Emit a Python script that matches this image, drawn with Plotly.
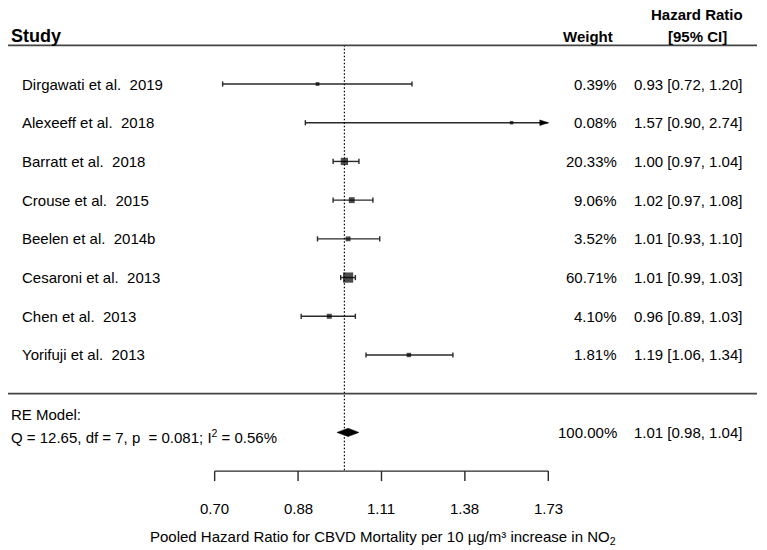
import numpy as np
import plotly.graph_objects as go

# ---------------- data ----------------
studies = ["Dirgawati et al.  2019", "Alexeeff et al.  2018", "Barratt et al.  2018",
           "Crouse et al.  2015", "Beelen et al.  2014b", "Cesaroni et al.  2013",
           "Chen et al.  2013", "Yorifuji et al.  2013"]
hr = [0.93, 1.57, 1.00, 1.02, 1.01, 1.01, 0.96, 1.19]
ci_lo = [0.72, 0.90, 0.97, 0.97, 0.93, 0.99, 0.89, 1.06]
ci_hi = [1.20, 2.74, 1.04, 1.08, 1.10, 1.03, 1.03, 1.34]
weights = [0.39, 0.08, 20.33, 9.06, 3.52, 60.71, 4.10, 1.81]

re_est, re_lo, re_hi = 1.01, 0.98, 1.04
re_weight = 100.00
re_stats = "Q = 12.65, df = 7, p  = 0.081; I<sup>2</sup> = 0.56%"

tick_vals = [0.7047, 0.8825, 1.1052, 1.3840, 1.7333]
tick_labels = ["0.70", "0.88", "1.11", "1.38", "1.73"]
x_title = "Pooled Hazard Ratio for CBVD Mortality per 10 µg/m³ increase in NO<sub>2</sub>"

# ---------------- geometry ----------------
W, H = 767, 550
px_per_ln = 370.7
px_null = 344.4
ln_left = (0 - px_null) / px_per_ln
ln_right = (W - px_null) / px_per_ln
px_per_row = 38.71
py_zero = 393.7
y_top = py_zero / px_per_row
y_bot = (py_zero - H) / px_per_row

k = len(studies)
rows = list(range(k, 0, -1))
alim_hi = tick_vals[-1]
alim_lo = tick_vals[0]

FONT = "Liberation Sans, Arial, sans-serif"
LC = "#2a2a2a"

fig = go.Figure()

# CI lines
xs, ys = [], []
for y, lo, hi in zip(rows, ci_lo, ci_hi):
    xs += [max(lo, alim_lo), min(hi, alim_hi), None]
    ys += [y, y, None]
fig.add_trace(go.Scatter(x=xs, y=ys, mode="lines", line=dict(color=LC, width=1.4),
                         hoverinfo="skip", showlegend=False))

# caps
cap = 2.6 / px_per_row
xs, ys = [], []
for y, lo, hi in zip(rows, ci_lo, ci_hi):
    for v in (lo, hi):
        if alim_lo <= v <= alim_hi:
            xs += [v, v, None]
            ys += [y - cap, y + cap, None]
fig.add_trace(go.Scatter(x=xs, y=ys, mode="lines", line=dict(color=LC, width=1.4),
                         hoverinfo="skip", showlegend=False))

# arrows where CI exceeds axis limit
ah_len = 8.5 / px_per_ln
ah_half = 2.8 / px_per_row
for y, hi in zip(rows, ci_hi):
    if hi > alim_hi:
        base = float(np.exp(np.log(alim_hi) - ah_len))
        fig.add_trace(go.Scatter(x=[base, alim_hi, base, base], y=[y + ah_half, y, y - ah_half, y + ah_half],
                                 mode="lines", fill="toself", fillcolor="black",
                                 line=dict(color="black", width=0.5), hoverinfo="skip", showlegend=False))

# point estimates
sizes = [3.2 + 0.9 * np.sqrt(w) for w in weights]
fig.add_trace(go.Scatter(x=hr, y=rows, mode="markers",
                         marker=dict(symbol="square", size=sizes, color="black", line=dict(width=0)),
                         hoverinfo="skip", showlegend=False))

# summary diamond
dh = 4.2 / px_per_row
fig.add_trace(go.Scatter(x=[re_lo, re_est, re_hi, re_est, re_lo], y=[-1, -1 + dh, -1, -1 - dh, -1],
                         mode="lines", fill="toself", fillcolor="black",
                         line=dict(color="black", width=0.5), hoverinfo="skip", showlegend=False))

# null line (dotted)
fig.add_trace(go.Scatter(x=[1, 1], y=[k + 1, (py_zero - 471) / px_per_row], mode="lines",
                         line=dict(color="black", width=1.2, dash="1.5px,2px"), hoverinfo="skip", showlegend=False))

# custom x axis
y_ax = -2.0
tick_len = 10 / px_per_row
fig.add_trace(go.Scatter(x=[tick_vals[0], tick_vals[-1]], y=[y_ax, y_ax], mode="lines",
                         line=dict(color=LC, width=1.4), hoverinfo="skip", showlegend=False))
xs, ys = [], []
for t in tick_vals:
    xs += [t, t, None]
    ys += [y_ax, y_ax - tick_len, None]
fig.add_trace(go.Scatter(x=xs, y=ys, mode="lines", line=dict(color=LC, width=1.4),
                         hoverinfo="skip", showlegend=False))

ann = []
def add_text(text, xpx, y, anchor="left", size=15, bold=False, yref="y", xref="paper"):
    if bold:
        text = "<b>" + text + "</b>"
    ann.append(dict(text=text, x=(xpx / W) if xref == "paper" else xpx, xref=xref, y=y, yref=yref,
                    xanchor=anchor, yanchor="middle", showarrow=False,
                    font=dict(family=FONT, size=size, color="black")))

for t, lab in zip(tick_vals, tick_labels):
    add_text(lab, float(np.log10(t)), (py_zero - 508) / px_per_row, anchor="center", xref="x")

for y, s, w, e, lo, hi in zip(rows, studies, weights, hr, ci_lo, ci_hi):
    add_text(s, 20, y)
    add_text(f"{w:.2f}%", 619, y, anchor="right")
    add_text(f"{e:.2f} [{lo:.2f}, {hi:.2f}]", 744, y, anchor="right")

add_text("RE Model:", 9, (py_zero - 414) / px_per_row)
add_text(re_stats, 9, (py_zero - 436) / px_per_row)
add_text(f"{re_weight:.2f}%", 619, -1, anchor="right")
add_text(f"{re_est:.2f} [{re_lo:.2f}, {re_hi:.2f}]", 744, -1, anchor="right")

add_text("Study", 9, 1 - 36 / H, size=18, bold=True, yref="paper")
add_text("Weight", 615, 1 - 37 / H, anchor="right", size=15, bold=True, yref="paper")
add_text("Hazard Ratio", 697, 1 - 15 / H, anchor="center", size=15, bold=True, yref="paper")
add_text("[95% CI]", 697, 1 - 37 / H, anchor="center", size=15, bold=True, yref="paper")

add_text(x_title, 383, (py_zero - 537) / px_per_row, anchor="center", size=15)

shapes = []
for yl in (k + 1, 0):
    shapes.append(dict(type="line", xref="paper", yref="y", x0=8 / W, x1=757 / W, y0=yl, y1=yl,
                       line=dict(color="#444444", width=1.8)))

fig.update_layout(
    width=W, height=H, margin=dict(l=0, r=0, t=0, b=0),
    paper_bgcolor="white", plot_bgcolor="white",
    xaxis=dict(type="log", range=[ln_left / np.log(10), ln_right / np.log(10)], visible=False, fixedrange=True),
    yaxis=dict(range=[y_bot, y_top], visible=False, fixedrange=True),
    annotations=ann, shapes=shapes, showlegend=False,
)

fig.write_html("out.html", config={"displayModeBar": False},
               post_script="document.body.style.margin='0';document.body.style.overflow='hidden';")
